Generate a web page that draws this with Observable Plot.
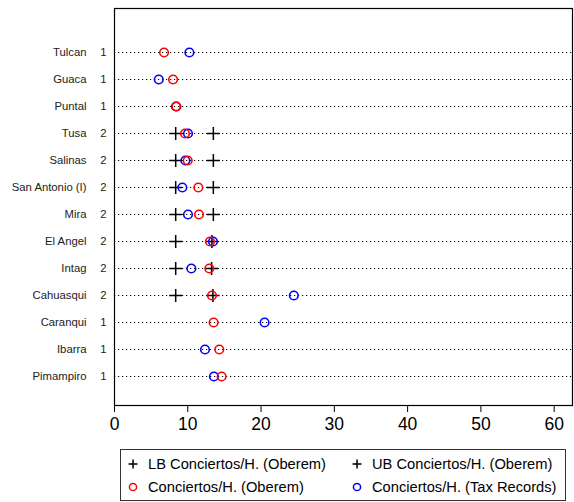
<!DOCTYPE html>
<html>
<head>
<meta charset="utf-8">
<script src="https://cdn.jsdelivr.net/npm/d3@7"></script>
<script src="https://cdn.jsdelivr.net/npm/@observablehq/plot@0.6"></script>
<style>
  body { margin: 0; background: #fff; font-family: "Liberation Sans", Arial, sans-serif; }
  #wrap { position: relative; width: 574px; height: 502px; }
  #legend { position: absolute; left: 120px; top: 449px; width: 446px; height: 52px;
            border: 1px solid #333; box-sizing: border-box; font-size: 14.7px; color: #000; }
  .item { position: absolute; white-space: nowrap; line-height: 16px; }
  .sym { position: absolute; left: 0; top: 2px; }
</style>
</head>
<body>
<div id="wrap">
  <div id="chart"></div>
  <div id="legend"></div>
</div>
<script>
const regions   = ["Tulcan","Guaca","Puntal","Tusa","Salinas","San Antonio (I)","Mira","El Angel","Intag","Cahuasqui","Caranqui","Ibarra","Pimampiro"];
const districts = [1,1,1,2,2,2,2,2,2,2,1,1,1];
const oberem    = [6.76,7.99,8.45,9.62,9.99,11.44,11.53,13.03,12.94,13.30,13.53,14.30,14.62];
const taxRecs   = [10.22,6.04,8.40,10.03,9.67,9.26,10.03,13.44,10.49,24.47,20.48,12.35,13.57];
const lbOberem  = [null,null,null,8.35,8.35,8.35,8.35,8.35,8.35,8.35,null,null,null];
const ubOberem  = [null,null,null,13.49,13.49,13.49,13.49,13.30,13.25,13.43,null,null,null];
const xTicks    = [0,10,20,30,40,50,60];
const legendLabels = ["LB Conciertos/H. (Oberem)","UB Conciertos/H. (Oberem)","Conciertos/H. (Oberem)","Conciertos/H. (Tax Records)"];

const rows = regions.map((r, i) => ({region: r, district: districts[i], oberem: oberem[i], tax: taxRecs[i], lb: lbOberem[i], ub: ubOberem[i]}));
const lbRows = rows.filter(d => d.lb != null);
const ubRows = rows.filter(d => d.ub != null);

const chart = Plot.plot({
  width: 574,
  height: 445,
  marginLeft: 114,
  marginRight: 2,
  marginTop: 8,
  marginBottom: 40,
  style: {fontFamily: "'Liberation Sans', Arial, sans-serif", background: "#fff"},
  x: {domain: [0, 62.5], ticks: xTicks, label: null},
  y: {type: "point", domain: regions, range: [50, 378], padding: 0, axis: null},
  marks: [
    Plot.ruleY(rows, {y: "region", x1: 0, x2: 62.5, stroke: "#000", strokeWidth: 1.1, strokeDasharray: "1.2 2.8"}),
    Plot.frame({stroke: "#000", strokeWidth: 1.2}),
    Plot.text(rows, {y: "region", text: "region", frameAnchor: "left", textAnchor: "end", dx: -28, fontSize: 11.3, fill: "#222"}),
    Plot.text(rows, {y: "region", text: d => String(d.district), frameAnchor: "left", textAnchor: "middle", dx: -11, fontSize: 11.3, fill: "#222"}),
    Plot.dot(lbRows, {x: "lb", y: "region", symbol: "plus", r: 4.3, stroke: "#000", strokeWidth: 1.5}),
    Plot.dot(ubRows, {x: "ub", y: "region", symbol: "plus", r: 4.3, stroke: "#000", strokeWidth: 1.5}),
    Plot.dot(rows, {x: "tax", y: "region", r: 4.3, stroke: "#0000ff", strokeWidth: 1.6, fill: "none"}),
    Plot.dot(rows, {x: "oberem", y: "region", r: 4.3, stroke: "#ff0000", strokeWidth: 1.6, fill: "none"}),
    Plot.axisX({ticks: xTicks, tickSize: 7, tickPadding: 5, fontSize: 17.5, label: null, stroke: "#000"})
  ]
});
chart.querySelectorAll("[aria-label='x-axis tick label'] text").forEach(t => t.setAttribute("fill", "#000"));
document.getElementById("chart").appendChild(chart);

// legend
const leg = document.getElementById("legend");
const items = [
  {label: legendLabels[0], sym: "plus", color: "#000", x: 6, y: 6},
  {label: legendLabels[1], sym: "plus", color: "#000", x: 230, y: 6},
  {label: legendLabels[2], sym: "circle", color: "#ff0000", x: 6, y: 29},
  {label: legendLabels[3], sym: "circle", color: "#0000ff", x: 230, y: 29}
];
items.forEach(it => {
  const d = document.createElement("div");
  d.className = "item";
  d.style.left = it.x + "px";
  d.style.top = it.y + "px";
  const svg = d3.create("svg").attr("class", "sym").attr("width", 12).attr("height", 12);
  if (it.sym === "plus") {
    svg.append("path").attr("d", "M1.5,6H10.5M6,1.5V10.5").attr("stroke", it.color).attr("stroke-width", 1.5).attr("fill", "none");
  } else {
    svg.append("circle").attr("cx", 6).attr("cy", 6).attr("r", 3.6).attr("stroke", it.color).attr("stroke-width", 1.5).attr("fill", "none");
  }
  d.appendChild(svg.node());
  const t = document.createElement("span");
  t.textContent = it.label;
  t.style.position = "absolute";
  t.style.left = "21px";
  d.appendChild(t);
  leg.appendChild(d);
});
</script>
</body>
</html>
